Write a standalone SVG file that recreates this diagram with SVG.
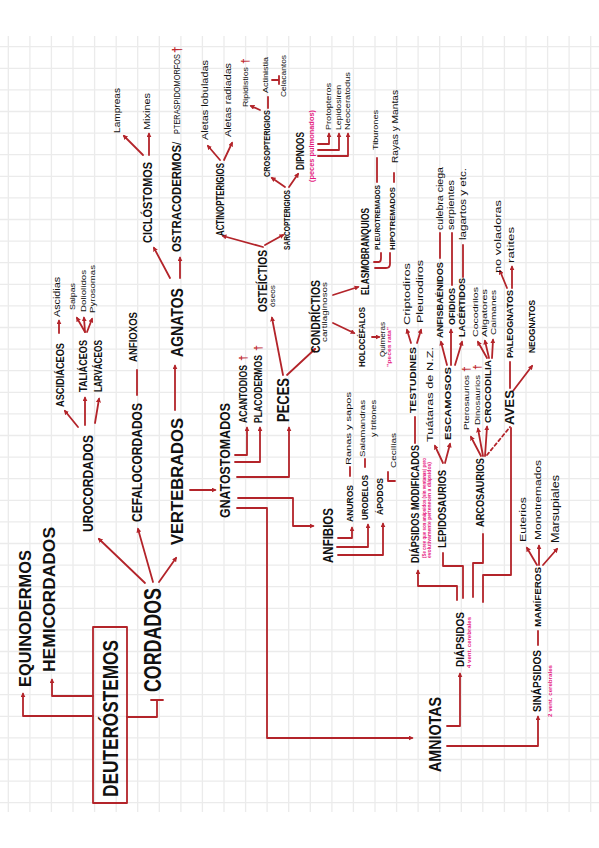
<svg xmlns="http://www.w3.org/2000/svg" width="599" height="848" viewBox="0 0 599 848">
<style>
text{font-family:"Liberation Sans","DejaVu Sans",sans-serif;dominant-baseline:central;fill:#111;}
.B{font-weight:700;}
.L{font-weight:400;}
.pk{fill:#e5197f;font-weight:700;}
.dg{fill:#c0262c;font-weight:700;}
.c{fill:none;stroke:#b3242a;stroke-width:1.8;stroke-linecap:round;stroke-linejoin:round;}
.a{marker-end:url(#ah);}
.grid{fill:none;stroke:#ebebeb;stroke-width:1.3;}
</style>
<defs>
<marker id="ah" viewBox="0 0 6 6" refX="4" refY="3" markerWidth="5" markerHeight="5" markerUnits="userSpaceOnUse" orient="auto"><path d="M0,0 L6,3 L0,6 z" fill="#b3242a"/></marker>
</defs>
<rect x="0" y="0" width="599" height="848" fill="#ffffff"/>
<g id="grid" class="grid">
<path d="M8.3,36V812M29.9,36V812M51.4,36V812M73,36V812M94.6,36V812M116.2,36V812M137.7,36V812M159.3,36V812M180.9,36V812M202.4,36V812M224,36V812M245.6,36V812M267.1,36V812M288.7,36V812M310.3,36V812M331.9,36V812M353.4,36V812M375,36V812M396.6,36V812M418.1,36V812M439.7,36V812M461.3,36V812M482.8,36V812M504.4,36V812M526,36V812M547.6,36V812M569.1,36V812M590.7,36V812"/>
<path d="M0,46.7H599M0,68.3H599M0,89.9H599M0,111.5H599M0,133.1H599M0,154.7H599M0,176.3H599M0,197.9H599M0,219.5H599M0,241.1H599M0,262.7H599M0,284.3H599M0,305.9H599M0,327.5H599M0,349.1H599M0,370.7H599M0,392.3H599M0,413.9H599M0,435.5H599M0,457.1H599M0,478.7H599M0,500.3H599M0,521.9H599M0,543.5H599M0,565.1H599M0,586.7H599M0,608.3H599M0,629.9H599M0,651.5H599M0,673.1H599M0,694.7H599M0,716.3H599M0,737.9H599M0,759.5H599M0,781.1H599M0,802.7H599"/>
</g>

<g id="connectors">
<rect x="93" y="627" width="34" height="176" class="c" stroke-width="2.2"/>
<path class="c a" d="M93,716H23V694"/>
<path class="c a" d="M93,696H52V680"/>
<path class="c" d="M127,717H157V700M151,700H163"/>
<path class="c a" d="M145,583L99,539"/>
<path class="c a" d="M153,582L138,529"/>
<path class="c a" d="M159,582L176,558"/>
<path class="c a" d="M78,427L65,411"/>
<path class="c a" d="M85,425V398"/>
<path class="c a" d="M95,423L99,399"/>
<path class="c a" d="M59,333V321"/>
<path class="c a" d="M85,332L77,318"/>
<path class="c a" d="M85,332L84,318"/>
<path class="c a" d="M87,332L92,319"/>
<path class="c" d="M137,395V370"/>
<path class="c a" d="M175,410V366"/>
<path class="c a" d="M170,278L154,248"/>
<path class="c a" d="M180,278V258"/>
<path class="c a" d="M143,155L124,136"/>
<path class="c a" d="M149,155V134"/>
<path class="c a" d="M190,490H215"/>
<path class="c a" d="M235,455H247V428"/>
<path class="c a" d="M235,462H260V428"/>
<path class="c a" d="M237,477H289V428"/>
<path class="c a" d="M238,498H293V526H313"/>
<path class="c a" d="M237,508H267V738H412"/>
<path class="c a" d="M283,375L272,318"/>
<path class="c a" d="M287,375L315,349"/>
<path class="c a" d="M263,247L223,236"/>
<path class="c a" d="M265,245L283,235"/>
<path class="c a" d="M220,160L208,146"/>
<path class="c a" d="M224,160L232,143"/>
<path class="c a" d="M285,187L272,178"/>
<path class="c a" d="M289,187L298,174"/>
<path class="c a" d="M260,110L251,106"/>
<path class="c" d="M268,108V97"/>
<path class="c" d="M272,80H279M279,76V84"/>
<path class="c a" d="M318,144H329V134"/>
<path class="c a" d="M318,150H339V134"/>
<path class="c a" d="M318,156H348V134"/>
<path class="c a" d="M333,295L358,287"/>
<path class="c a" d="M333,323L354,333"/>
<path class="c a" d="M372,337H379"/>
<path class="c" d="M374,262H379Q381,262 381,258V253"/>
<path class="c" d="M375,268H386Q390,268 390,264V253"/>
<path class="c" d="M377,182V158"/>
<path class="c" d="M394,182V173"/>
<path class="c a" d="M338,538H352V528"/>
<path class="c a" d="M337,547H368V525"/>
<path class="c a" d="M338,555H383V524"/>
<path class="c" d="M350,476V467"/>
<path class="c" d="M365,467V459"/>
<path class="c" d="M388,472V481H395"/>
<path class="c a" d="M447,726H460V674"/>
<path class="c a" d="M447,746H538V717"/>
<path class="c" d="M538,645V631"/>
<path class="c a" d="M537,565L527,548"/>
<path class="c a" d="M539,565V546"/>
<path class="c a" d="M543,565L557,549"/>
<path class="c a" d="M457,600V586H418V571"/>
<path class="c" d="M463,598V566H443V553"/>
<path class="c" d="M473,597V563H483V534"/>
<path class="c" d="M483,602V575H511V428"/>
<path class="c a" d="M443,463L435,446"/>
<path class="c a" d="M445,463L450,444"/>
<path class="c a" d="M447,365L441,342"/>
<path class="c a" d="M451,365V330"/>
<path class="c a" d="M455,365L462,342"/>
<path class="c" d="M440,258V233"/>
<path class="c" d="M452,285V233"/>
<path class="c" d="M463,277V245"/>
<path class="c a" d="M411,343L407,330"/>
<path class="c a" d="M417,343L421,330"/>
<path class="c" d="M415,443V417"/>
<path class="c a" d="M481,456L471,437"/>
<path class="c a" d="M483,456L478,429"/>
<path class="c a" d="M485,456L487,427"/>
<path class="c" d="M487,455L510,427" stroke-dasharray="3,3"/>
<path class="c a" d="M487,358L478,342"/>
<path class="c a" d="M489,358L485,341"/>
<path class="c a" d="M492,358L493,340"/>
<path class="c" d="M510,388V362"/>
<path class="c a" d="M513,391L532,366"/>
<path class="c a" d="M507,288L500,271"/>
<path class="c a" d="M512,288V267"/>
</g>

<g id="n-deuterostomos"><text class="B" font-size="22" x="110" y="797" transform="rotate(-90 110 797)" textLength="157" lengthAdjust="spacingAndGlyphs">DEUTERÓSTEMOS</text></g>
<g id="n-equinodermos"><text class="B" font-size="17" x="25" y="687" transform="rotate(-90 25 687)" textLength="137" lengthAdjust="spacingAndGlyphs">EQUINODERMOS</text></g>
<g id="n-hemicordados"><text class="B" font-size="17" x="49" y="672" transform="rotate(-90 49 672)" textLength="145" lengthAdjust="spacingAndGlyphs">HEMICORDADOS</text></g>
<g id="n-cordados"><text class="B" font-size="24" x="152" y="692" transform="rotate(-90 152 692)" textLength="104" lengthAdjust="spacingAndGlyphs">CORDADOS</text></g>
<g id="n-urocordados"><text class="B" font-size="14" x="88" y="532" transform="rotate(-90 88 532)" textLength="97" lengthAdjust="spacingAndGlyphs">UROCORDADOS</text></g>
<g id="n-cefalocordados"><text class="B" font-size="14" x="137" y="522" transform="rotate(-90 137 522)" textLength="119" lengthAdjust="spacingAndGlyphs">CEFALOCORDADOS</text></g>
<g id="n-vertebrados"><text class="B" font-size="16" x="177" y="545" transform="rotate(-90 177 545)" textLength="127" lengthAdjust="spacingAndGlyphs">VERTEBRADOS</text></g>
<g id="n-ascidiaceos"><text class="B" font-size="10" x="60" y="407" transform="rotate(-90 60 407)" textLength="64" lengthAdjust="spacingAndGlyphs">ASCIDIÁCEOS</text></g>
<g id="n-ascidias"><text class="L" font-size="9" x="57" y="317" transform="rotate(-90 57 317)" textLength="40" lengthAdjust="spacingAndGlyphs">Ascidias</text></g>
<g id="n-taliaceos"><text class="B" font-size="10" x="83" y="392" transform="rotate(-90 83 392)" textLength="52" lengthAdjust="spacingAndGlyphs">TALIÁCEOS</text></g>
<g id="n-salpas"><text class="L" font-size="8" x="72" y="310" transform="rotate(-90 72 310)" textLength="27" lengthAdjust="spacingAndGlyphs">Salpas</text></g>
<g id="n-doliolidos"><text class="L" font-size="8" x="83" y="312" transform="rotate(-90 83 312)" textLength="42" lengthAdjust="spacingAndGlyphs">Doliolidos</text></g>
<g id="n-pyrosomas"><text class="L" font-size="8" x="92" y="313" transform="rotate(-90 92 313)" textLength="48" lengthAdjust="spacingAndGlyphs">Pyrosomas</text></g>
<g id="n-larvaceos"><text class="B" font-size="10" x="98" y="392" transform="rotate(-90 98 392)" textLength="52" lengthAdjust="spacingAndGlyphs">LARVÁCEOS</text></g>
<g id="n-anfioxos"><text class="B" font-size="10" x="133" y="362" transform="rotate(-90 133 362)" textLength="50" lengthAdjust="spacingAndGlyphs">ANFIOXOS</text></g>
<g id="n-agnatos"><text class="B" font-size="17" x="177" y="357" transform="rotate(-90 177 357)" textLength="69" lengthAdjust="spacingAndGlyphs">AGNATOS</text></g>
<g id="n-ciclostomos"><text class="B" font-size="12" x="148" y="243" transform="rotate(-90 148 243)" textLength="81" lengthAdjust="spacingAndGlyphs">CICLÓSTOMOS</text></g>
<g id="n-lampreas"><text class="L" font-size="9" x="117" y="133" transform="rotate(-90 117 133)" textLength="45" lengthAdjust="spacingAndGlyphs">Lampreas</text></g>
<g id="n-mixines"><text class="L" font-size="9" x="147" y="130" transform="rotate(-90 147 130)" textLength="37" lengthAdjust="spacingAndGlyphs">Mixines</text></g>
<g id="n-ostracodermos">
<text class="B" font-size="12" x="177" y="252" transform="rotate(-90 177 252)" textLength="107" lengthAdjust="spacingAndGlyphs">OSTRACODERMOS</text>
<text class="L" font-size="12" x="177" y="145" transform="rotate(-90 177 145)">/</text>
<text class="L" font-size="9" x="177" y="134" transform="rotate(-90 177 134)" textLength="80" lengthAdjust="spacingAndGlyphs">PTERASPIDOMORFOS</text>
<text class="dg" font-size="12" x="177" y="53" transform="rotate(-90 177 53)">†</text>
</g>
<g id="n-actinopterigios"><text class="B" font-size="10" x="220" y="236" transform="rotate(-90 220 236)" textLength="73" lengthAdjust="spacingAndGlyphs">ACTINOPTERIGIOS</text></g>
<g id="n-aletas-lob"><text class="L" font-size="9" x="205" y="140" transform="rotate(-90 205 140)" textLength="80" lengthAdjust="spacingAndGlyphs">Aletas lobuladas</text></g>
<g id="n-aletas-rad"><text class="L" font-size="9" x="228" y="137" transform="rotate(-90 228 137)" textLength="74" lengthAdjust="spacingAndGlyphs">Aletas radiadas</text></g>
<g id="n-osteictios">
<text class="B" font-size="12" x="263" y="312" transform="rotate(-90 263 312)" textLength="62" lengthAdjust="spacingAndGlyphs">OSTEÍCTIOS</text>
<text class="L" font-size="7" x="272" y="307" transform="rotate(-90 272 307)" textLength="22" lengthAdjust="spacingAndGlyphs">óseos</text>
</g>
<g id="n-sarcopterigios"><text class="B" font-size="9" x="287" y="250" transform="rotate(-90 287 250)" textLength="60" lengthAdjust="spacingAndGlyphs">SARCOPTERIGIOS</text></g>
<g id="n-crosopterigios"><text class="B" font-size="9" x="267" y="177" transform="rotate(-90 267 177)" textLength="67" lengthAdjust="spacingAndGlyphs">CROSOPTERIGIOS</text></g>
<g id="n-ripidistios">
<text class="L" font-size="8" x="245" y="107" transform="rotate(-90 245 107)" textLength="40" lengthAdjust="spacingAndGlyphs">Ripidistios</text>
<text class="dg" font-size="10" x="245" y="64" transform="rotate(-90 245 64)">†</text>
</g>
<g id="n-actinistia"><text class="L" font-size="8" x="265" y="93" transform="rotate(-90 265 93)" textLength="36" lengthAdjust="spacingAndGlyphs">Actinistia</text></g>
<g id="n-celacantos"><text class="L" font-size="8" x="283" y="97" transform="rotate(-90 283 97)" textLength="42" lengthAdjust="spacingAndGlyphs">Celacantos</text></g>
<g id="n-dipnoos">
<text class="B" font-size="10" x="300" y="170" transform="rotate(-90 300 170)" textLength="38" lengthAdjust="spacingAndGlyphs">DIPNOOS</text>
<text class="pk" font-size="7" x="311" y="182" transform="rotate(-90 311 182)" textLength="72" lengthAdjust="spacingAndGlyphs">(peces pulmonados)</text>
</g>
<g id="n-protopteros"><text class="L" font-size="8" x="328" y="130" transform="rotate(-90 328 130)" textLength="47" lengthAdjust="spacingAndGlyphs">Protopteros</text></g>
<g id="n-lepidosiren"><text class="L" font-size="8" x="338" y="130" transform="rotate(-90 338 130)" textLength="45" lengthAdjust="spacingAndGlyphs">Lepidosiren</text></g>
<g id="n-neoceratodus"><text class="L" font-size="8" x="347" y="130" transform="rotate(-90 347 130)" textLength="58" lengthAdjust="spacingAndGlyphs">Neoceratodus</text></g>
<g id="n-condrictios">
<text class="B" font-size="13" x="315" y="353" transform="rotate(-90 315 353)" textLength="73" lengthAdjust="spacingAndGlyphs">CONDRÍCTIOS</text>
<text class="L" font-size="7" x="324" y="342" transform="rotate(-90 324 342)" textLength="60" lengthAdjust="spacingAndGlyphs">cartilaginosos</text>
</g>
<g id="n-elasmobranquios"><text class="B" font-size="10" x="365" y="295" transform="rotate(-90 365 295)" textLength="87" lengthAdjust="spacingAndGlyphs">ELASMOBRANQUIOS</text></g>
<g id="n-pleurotremados"><text class="B" font-size="8" x="377" y="250" transform="rotate(-90 377 250)" textLength="65" lengthAdjust="spacingAndGlyphs">PLEUROTREMADOS</text></g>
<g id="n-tiburones"><text class="L" font-size="8" x="375" y="150" transform="rotate(-90 375 150)" textLength="40" lengthAdjust="spacingAndGlyphs">Tiburones</text></g>
<g id="n-hipotremados"><text class="B" font-size="8" x="392" y="250" transform="rotate(-90 392 250)" textLength="63" lengthAdjust="spacingAndGlyphs">HIPOTREMADOS</text></g>
<g id="n-rayas"><text class="L" font-size="9" x="395" y="163" transform="rotate(-90 395 163)" textLength="73" lengthAdjust="spacingAndGlyphs">Rayas y Mantas</text></g>
<g id="n-holocefalos"><text class="B" font-size="9" x="362" y="367" transform="rotate(-90 362 367)" textLength="60" lengthAdjust="spacingAndGlyphs">HOLOCÉFALOS</text></g>
<g id="n-quimeras">
<text class="L" font-size="8" x="382" y="357" transform="rotate(-90 382 357)" textLength="35" lengthAdjust="spacingAndGlyphs">Quimeras</text>
<text class="pk" font-size="6" x="389" y="367" transform="rotate(-90 389 367)" textLength="40" lengthAdjust="spacingAndGlyphs">"peces rata"</text>
</g>
<g id="n-peces"><text class="B" font-size="17" x="283" y="422" transform="rotate(-90 283 422)" textLength="44" lengthAdjust="spacingAndGlyphs">PECES</text></g>
<g id="n-acantodios">
<text class="B" font-size="10" x="243" y="423" transform="rotate(-90 243 423)" textLength="58" lengthAdjust="spacingAndGlyphs">ACANTODIOS</text>
<text class="dg" font-size="11" x="243" y="361" transform="rotate(-90 243 361)">†</text>
</g>
<g id="n-placodermos">
<text class="B" font-size="10" x="258" y="423" transform="rotate(-90 258 423)" textLength="68" lengthAdjust="spacingAndGlyphs">PLACODERMOS</text>
<text class="dg" font-size="11" x="258" y="351" transform="rotate(-90 258 351)">†</text>
</g>
<g id="n-gnatostomados"><text class="B" font-size="14" x="225" y="518" transform="rotate(-90 225 518)" textLength="115" lengthAdjust="spacingAndGlyphs">GNATOSTOMADOS</text></g>
<g id="n-anfibios"><text class="B" font-size="15" x="327" y="563" transform="rotate(-90 327 563)" textLength="55" lengthAdjust="spacingAndGlyphs">ANFIBIOS</text></g>
<g id="n-anuros"><text class="B" font-size="9" x="350" y="522" transform="rotate(-90 350 522)" textLength="37" lengthAdjust="spacingAndGlyphs">ANUROS</text></g>
<g id="n-ranas"><text class="L" font-size="8" x="348" y="465" transform="rotate(-90 348 465)" textLength="73" lengthAdjust="spacingAndGlyphs">Ranas y sapos</text></g>
<g id="n-urodelos"><text class="B" font-size="9" x="365" y="520" transform="rotate(-90 365 520)" textLength="45" lengthAdjust="spacingAndGlyphs">URODELOS</text></g>
<g id="n-salamandras">
<text class="L" font-size="8" x="362" y="457" transform="rotate(-90 362 457)" textLength="57" lengthAdjust="spacingAndGlyphs">Salamandras</text>
<text class="L" font-size="8" x="373" y="437" transform="rotate(-90 373 437)" textLength="37" lengthAdjust="spacingAndGlyphs">y tritones</text>
</g>
<g id="n-apodos"><text class="B" font-size="9" x="380" y="515" transform="rotate(-90 380 515)" textLength="37" lengthAdjust="spacingAndGlyphs">ÁPODOS</text></g>
<g id="n-cecilias"><text class="L" font-size="8" x="393" y="468" transform="rotate(-90 393 468)" textLength="35" lengthAdjust="spacingAndGlyphs">Cecilias</text></g>
<g id="n-testudines"><text class="B" font-size="9" x="413" y="413" transform="rotate(-90 413 413)" textLength="66" lengthAdjust="spacingAndGlyphs">TESTUDINES</text></g>
<g id="n-criptodiros"><text class="L" font-size="9" x="407" y="325" transform="rotate(-90 407 325)" textLength="62" lengthAdjust="spacingAndGlyphs">Criptodiros</text></g>
<g id="n-pleurodiros"><text class="L" font-size="9" x="420" y="323" transform="rotate(-90 420 323)" textLength="63" lengthAdjust="spacingAndGlyphs">Pleurodiros</text></g>
<g id="n-tuataras"><text class="L" font-size="9" x="430" y="442" transform="rotate(-90 430 442)" textLength="95" lengthAdjust="spacingAndGlyphs">Tuátaras de N.Z.</text></g>
<g id="n-escamosos"><text class="B" font-size="9" x="448" y="440" transform="rotate(-90 448 440)" textLength="73" lengthAdjust="spacingAndGlyphs">ESCAMOSOS</text></g>
<g id="n-anfisbaenidos"><text class="B" font-size="9" x="440" y="338" transform="rotate(-90 440 338)" textLength="76" lengthAdjust="spacingAndGlyphs">ANFISBAÉNIDOS</text></g>
<g id="n-culebra"><text class="L" font-size="9" x="440" y="230" transform="rotate(-90 440 230)" textLength="63" lengthAdjust="spacingAndGlyphs">culebra ciega</text></g>
<g id="n-ofidios"><text class="B" font-size="9" x="452" y="325" transform="rotate(-90 452 325)" textLength="37" lengthAdjust="spacingAndGlyphs">OFIDIOS</text></g>
<g id="n-serpientes"><text class="L" font-size="9" x="451" y="230" transform="rotate(-90 451 230)" textLength="50" lengthAdjust="spacingAndGlyphs">serpientes</text></g>
<g id="n-lacertidos"><text class="B" font-size="9" x="462" y="337" transform="rotate(-90 462 337)" textLength="59" lengthAdjust="spacingAndGlyphs">LACÉRTIDOS</text></g>
<g id="n-lagartos"><text class="L" font-size="9" x="463" y="240" transform="rotate(-90 463 240)" textLength="72" lengthAdjust="spacingAndGlyphs">lagartos y etc.</text></g>
<g id="n-pterosaurios">
<text class="L" font-size="8" x="466" y="430" transform="rotate(-90 466 430)" textLength="55" lengthAdjust="spacingAndGlyphs">Pterosaurios</text>
<text class="dg" font-size="10" x="466" y="372" transform="rotate(-90 466 372)">†</text>
</g>
<g id="n-dinosaurios">
<text class="L" font-size="8" x="477" y="425" transform="rotate(-90 477 425)" textLength="50" lengthAdjust="spacingAndGlyphs">Dinosaurios</text>
<text class="dg" font-size="10" x="477" y="370" transform="rotate(-90 477 370)">†</text>
</g>
<g id="n-crocodilia"><text class="B" font-size="9" x="488" y="423" transform="rotate(-90 488 423)" textLength="63" lengthAdjust="spacingAndGlyphs">CROCODILIA</text></g>
<g id="n-cocodrilos"><text class="L" font-size="8" x="475" y="337" transform="rotate(-90 475 337)" textLength="50" lengthAdjust="spacingAndGlyphs">Cocodrilos</text></g>
<g id="n-aligatores"><text class="L" font-size="8" x="484" y="337" transform="rotate(-90 484 337)" textLength="48" lengthAdjust="spacingAndGlyphs">Aligatores</text></g>
<g id="n-caimanes"><text class="L" font-size="8" x="493" y="335" transform="rotate(-90 493 335)" textLength="45" lengthAdjust="spacingAndGlyphs">Caimanes</text></g>
<g id="n-aves"><text class="B" font-size="12" x="510" y="425" transform="rotate(-90 510 425)" textLength="35" lengthAdjust="spacingAndGlyphs">AVES</text></g>
<g id="n-paleognatos"><text class="B" font-size="9" x="510" y="358" transform="rotate(-90 510 358)" textLength="68" lengthAdjust="spacingAndGlyphs">PALEOGNATOS</text></g>
<g id="n-novoladoras"><text class="L" font-size="9" x="498" y="273" transform="rotate(-90 498 273)" textLength="73" lengthAdjust="spacingAndGlyphs">no voladoras</text></g>
<g id="n-ratites"><text class="L" font-size="9" x="511" y="263" transform="rotate(-90 511 263)" textLength="36" lengthAdjust="spacingAndGlyphs">ratites</text></g>
<g id="n-neognatos"><text class="B" font-size="9" x="532" y="353" transform="rotate(-90 532 353)" textLength="53" lengthAdjust="spacingAndGlyphs">NEOGNATOS</text></g>
<g id="n-diapsidos-mod">
<text class="B" font-size="10" x="415" y="563" transform="rotate(-90 415 563)" textLength="118" lengthAdjust="spacingAndGlyphs">DIÁPSIDOS MODIFICADOS</text>
<text class="pk" font-size="4.5" x="424" y="558" transform="rotate(-90 424 558)" textLength="100" lengthAdjust="spacingAndGlyphs">(Se cree que son anápsidos (sin ventanas) pero</text>
<text class="pk" font-size="4.5" x="429" y="558" transform="rotate(-90 429 558)" textLength="96" lengthAdjust="spacingAndGlyphs">evolutivamente pertenecen a diápsidos)</text>
</g>
<g id="n-lepidosaurios"><text class="B" font-size="11" x="442" y="548" transform="rotate(-90 442 548)" textLength="78" lengthAdjust="spacingAndGlyphs">LEPIDOSAURIOS</text></g>
<g id="n-arcosaurios"><text class="B" font-size="11" x="480" y="527" transform="rotate(-90 480 527)" textLength="69" lengthAdjust="spacingAndGlyphs">ARCOSAURIOS</text></g>
<g id="n-euterios"><text class="L" font-size="9" x="523" y="542" transform="rotate(-90 523 542)" textLength="45" lengthAdjust="spacingAndGlyphs">Euterios</text></g>
<g id="n-monotremados"><text class="L" font-size="9" x="538" y="540" transform="rotate(-90 538 540)" textLength="80" lengthAdjust="spacingAndGlyphs">Monotremados</text></g>
<g id="n-marsupiales"><text class="L" font-size="10" x="555" y="543" transform="rotate(-90 555 543)" textLength="68" lengthAdjust="spacingAndGlyphs">Marsupiales</text></g>
<g id="n-mamiferos"><text class="B" font-size="9" x="538" y="627" transform="rotate(-90 538 627)" textLength="60" lengthAdjust="spacingAndGlyphs">MAMÍFEROS</text></g>
<g id="n-diapsidos">
<text class="B" font-size="11" x="460" y="667" transform="rotate(-90 460 667)" textLength="55" lengthAdjust="spacingAndGlyphs">DIÁPSIDOS</text>
<text class="pk" font-size="6" x="469" y="668" transform="rotate(-90 469 668)" textLength="51" lengthAdjust="spacingAndGlyphs">4 vent. cerebrales</text>
</g>
<g id="n-sinapsidos">
<text class="B" font-size="10" x="537" y="712" transform="rotate(-90 537 712)" textLength="62" lengthAdjust="spacingAndGlyphs">SINÁPSIDOS</text>
<text class="pk" font-size="6" x="550" y="717" transform="rotate(-90 550 717)" textLength="52" lengthAdjust="spacingAndGlyphs">2 vent. cerebrales</text>
</g>
<g id="n-amniotas"><text class="B" font-size="17" x="435" y="772" transform="rotate(-90 435 772)" textLength="75" lengthAdjust="spacingAndGlyphs">AMNIOTAS</text></g>
</svg>
